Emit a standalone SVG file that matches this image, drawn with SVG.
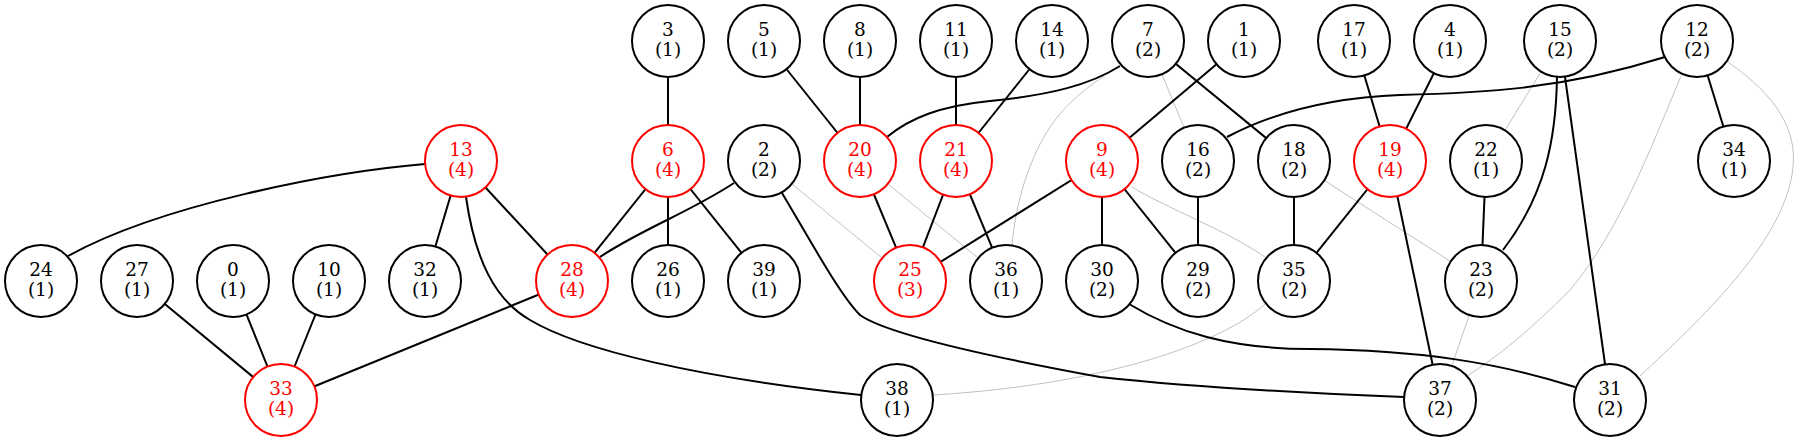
<svg xmlns="http://www.w3.org/2000/svg" width="1797" height="441" viewBox="0 0 1797 441">
<style>
.e{fill:none;stroke:#000;stroke-width:2}
.g{fill:none;stroke:#c0c0c0;stroke-width:1}
.n circle{fill:#fff;stroke:#000;stroke-width:2}
.n text{font-family:"DejaVu Serif",serif;font-size:18.5px;text-anchor:middle;fill:#000}
.r circle{stroke:#f00}
.r text{fill:#f00}
</style>
<rect width="1797" height="441" fill="#fff"/>
<g id="edges">
<path class="g" d="M764,161L910,281"/>
<path class="g" d="M860,161L1006,281"/>
<path class="g" d="M1148,41L1198,161"/>
<path class="g" d="M1560,41L1486,161"/>
<path class="g" d="M1294,161L1481,281"/>
<path class="g" d="M1481,281L1440,400"/>
<path class="g" d="M1120,66C1080,90 1060,110 1045,135C1025,170 1015,210 1012,245"/>
<path class="g" d="M1132,187C1160,205 1230,232 1265,257"/>
<path class="g" d="M1681,76C1650,150 1620,230 1570,290C1530,330 1500,355 1467,376"/>
<path class="g" d="M1728,62C1775,95 1800,130 1792,175C1780,245 1700,320 1640,376"/>
<path class="g" d="M1265,304C1220,345 1100,385 933,395"/>
<path class="e" d="M668,41L668,161"/>
<path class="e" d="M764,41L860,161"/>
<path class="e" d="M860,41L860,161"/>
<path class="e" d="M956,41L956,161"/>
<path class="e" d="M1052,41L956,161"/>
<path class="e" d="M1148,41L1294,161"/>
<path class="e" d="M1244,41L1102,161"/>
<path class="e" d="M1354,41L1390,161"/>
<path class="e" d="M1450,41L1390,161"/>
<path class="e" d="M1560,41L1610,400"/>
<path class="e" d="M1697,41L1734,161"/>
<path class="e" d="M461,161L425,281"/>
<path class="e" d="M461,161L572,281"/>
<path class="e" d="M668,161L572,281"/>
<path class="e" d="M668,161L668,281"/>
<path class="e" d="M668,161L764,281"/>
<path class="e" d="M860,161L910,281"/>
<path class="e" d="M956,161L910,281"/>
<path class="e" d="M956,161L1006,281"/>
<path class="e" d="M1102,161L910,281"/>
<path class="e" d="M1102,161L1102,281"/>
<path class="e" d="M1102,161L1198,281"/>
<path class="e" d="M1198,161L1198,281"/>
<path class="e" d="M1294,161L1294,281"/>
<path class="e" d="M1390,161L1294,281"/>
<path class="e" d="M1390,161L1440,400"/>
<path class="e" d="M1486,161L1481,281"/>
<path class="e" d="M137,281L281,400"/>
<path class="e" d="M233,281L281,400"/>
<path class="e" d="M329,281L281,400"/>
<path class="e" d="M572,281L281,400"/>
<path class="e" d="M887,137C910,118 940,106 990,101C1050,95 1090,85 1120,66"/>
<path class="e" d="M1227,137C1265,117 1320,98 1400,95C1480,93 1560,90 1665,57"/>
<path class="e" d="M1557,77C1556,140 1545,195 1503,250"/>
<path class="e" d="M425,164C330,172 160,205 68,256"/>
<path class="e" d="M466,197C475,260 495,300 530,320C580,350 700,378 861,395"/>
<path class="e" d="M734,183C690,212 640,230 600,257"/>
<path class="e" d="M782,193C810,240 840,295 860,315C885,333 980,355 1100,377C1200,388 1300,393 1404,397"/>
<path class="e" d="M1129,304C1175,332 1230,349 1310,349C1420,350 1500,363 1575,387"/>
</g>
<g id="n3" class="n"><circle cx="668" cy="41" r="36"/><text x="668" y="36">3</text><text x="668" y="56">(1)</text></g>
<g id="n5" class="n"><circle cx="764" cy="41" r="36"/><text x="764" y="36">5</text><text x="764" y="56">(1)</text></g>
<g id="n8" class="n"><circle cx="860" cy="41" r="36"/><text x="860" y="36">8</text><text x="860" y="56">(1)</text></g>
<g id="n11" class="n"><circle cx="956" cy="41" r="36"/><text x="956" y="36">11</text><text x="956" y="56">(1)</text></g>
<g id="n14" class="n"><circle cx="1052" cy="41" r="36"/><text x="1052" y="36">14</text><text x="1052" y="56">(1)</text></g>
<g id="n7" class="n"><circle cx="1148" cy="41" r="36"/><text x="1148" y="36">7</text><text x="1148" y="56">(2)</text></g>
<g id="n1" class="n"><circle cx="1244" cy="41" r="36"/><text x="1244" y="36">1</text><text x="1244" y="56">(1)</text></g>
<g id="n17" class="n"><circle cx="1354" cy="41" r="36"/><text x="1354" y="36">17</text><text x="1354" y="56">(1)</text></g>
<g id="n4" class="n"><circle cx="1450" cy="41" r="36"/><text x="1450" y="36">4</text><text x="1450" y="56">(1)</text></g>
<g id="n15" class="n"><circle cx="1560" cy="41" r="36"/><text x="1560" y="36">15</text><text x="1560" y="56">(2)</text></g>
<g id="n12" class="n"><circle cx="1697" cy="41" r="36"/><text x="1697" y="36">12</text><text x="1697" y="56">(2)</text></g>
<g id="n13" class="n r"><circle cx="461" cy="161" r="36"/><text x="461" y="156">13</text><text x="461" y="176">(4)</text></g>
<g id="n6" class="n r"><circle cx="668" cy="161" r="36"/><text x="668" y="156">6</text><text x="668" y="176">(4)</text></g>
<g id="n2" class="n"><circle cx="764" cy="161" r="36"/><text x="764" y="156">2</text><text x="764" y="176">(2)</text></g>
<g id="n20" class="n r"><circle cx="860" cy="161" r="36"/><text x="860" y="156">20</text><text x="860" y="176">(4)</text></g>
<g id="n21" class="n r"><circle cx="956" cy="161" r="36"/><text x="956" y="156">21</text><text x="956" y="176">(4)</text></g>
<g id="n9" class="n r"><circle cx="1102" cy="161" r="36"/><text x="1102" y="156">9</text><text x="1102" y="176">(4)</text></g>
<g id="n16" class="n"><circle cx="1198" cy="161" r="36"/><text x="1198" y="156">16</text><text x="1198" y="176">(2)</text></g>
<g id="n18" class="n"><circle cx="1294" cy="161" r="36"/><text x="1294" y="156">18</text><text x="1294" y="176">(2)</text></g>
<g id="n19" class="n r"><circle cx="1390" cy="161" r="36"/><text x="1390" y="156">19</text><text x="1390" y="176">(4)</text></g>
<g id="n22" class="n"><circle cx="1486" cy="161" r="36"/><text x="1486" y="156">22</text><text x="1486" y="176">(1)</text></g>
<g id="n34" class="n"><circle cx="1734" cy="161" r="36"/><text x="1734" y="156">34</text><text x="1734" y="176">(1)</text></g>
<g id="n24" class="n"><circle cx="41" cy="281" r="36"/><text x="41" y="276">24</text><text x="41" y="296">(1)</text></g>
<g id="n27" class="n"><circle cx="137" cy="281" r="36"/><text x="137" y="276">27</text><text x="137" y="296">(1)</text></g>
<g id="n0" class="n"><circle cx="233" cy="281" r="36"/><text x="233" y="276">0</text><text x="233" y="296">(1)</text></g>
<g id="n10" class="n"><circle cx="329" cy="281" r="36"/><text x="329" y="276">10</text><text x="329" y="296">(1)</text></g>
<g id="n32" class="n"><circle cx="425" cy="281" r="36"/><text x="425" y="276">32</text><text x="425" y="296">(1)</text></g>
<g id="n28" class="n r"><circle cx="572" cy="281" r="36"/><text x="572" y="276">28</text><text x="572" y="296">(4)</text></g>
<g id="n26" class="n"><circle cx="668" cy="281" r="36"/><text x="668" y="276">26</text><text x="668" y="296">(1)</text></g>
<g id="n39" class="n"><circle cx="764" cy="281" r="36"/><text x="764" y="276">39</text><text x="764" y="296">(1)</text></g>
<g id="n25" class="n r"><circle cx="910" cy="281" r="36"/><text x="910" y="276">25</text><text x="910" y="296">(3)</text></g>
<g id="n36" class="n"><circle cx="1006" cy="281" r="36"/><text x="1006" y="276">36</text><text x="1006" y="296">(1)</text></g>
<g id="n30" class="n"><circle cx="1102" cy="281" r="36"/><text x="1102" y="276">30</text><text x="1102" y="296">(2)</text></g>
<g id="n29" class="n"><circle cx="1198" cy="281" r="36"/><text x="1198" y="276">29</text><text x="1198" y="296">(2)</text></g>
<g id="n35" class="n"><circle cx="1294" cy="281" r="36"/><text x="1294" y="276">35</text><text x="1294" y="296">(2)</text></g>
<g id="n23" class="n"><circle cx="1481" cy="281" r="36"/><text x="1481" y="276">23</text><text x="1481" y="296">(2)</text></g>
<g id="n33" class="n r"><circle cx="281" cy="400" r="36"/><text x="281" y="395">33</text><text x="281" y="415">(4)</text></g>
<g id="n38" class="n"><circle cx="897" cy="400" r="36"/><text x="897" y="395">38</text><text x="897" y="415">(1)</text></g>
<g id="n37" class="n"><circle cx="1440" cy="400" r="36"/><text x="1440" y="395">37</text><text x="1440" y="415">(2)</text></g>
<g id="n31" class="n"><circle cx="1610" cy="400" r="36"/><text x="1610" y="395">31</text><text x="1610" y="415">(2)</text></g>
</svg>
